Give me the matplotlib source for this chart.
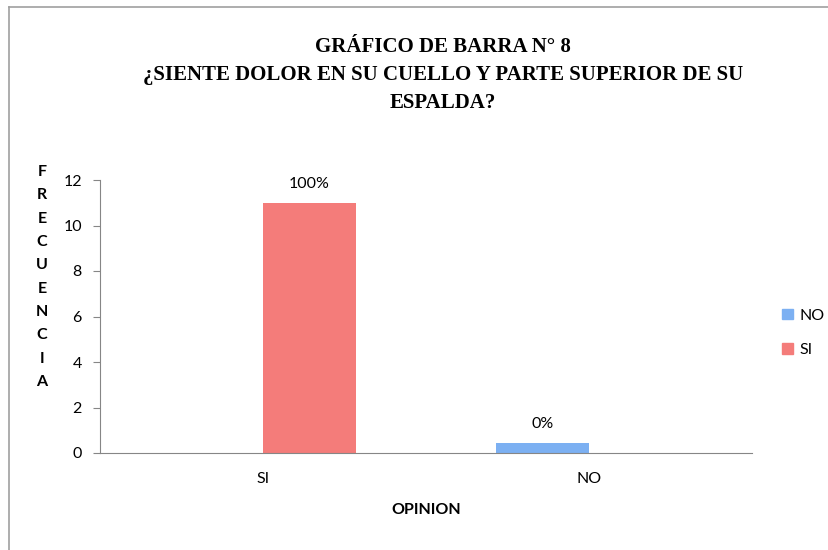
import numpy as np
import matplotlib.pyplot as plt
from matplotlib.lines import Line2D
from matplotlib.patches import Patch

categories = ["SI", "NO"]
series_names = ["NO", "SI"]
no_values = [0, 0.45]
si_values = [11, 0]
no_labels = ["", "0%"]
si_labels = ["100%", ""]
y_ticks = [0, 2, 4, 6, 8, 10, 12]

red = "#F47C7A"
blue = "#7CB0F2"
axis_grey = "#868686"
sans = ["Lato", "DejaVu Sans"]
fs = 11.5

fig = plt.figure(figsize=(8.29, 5.5), dpi=100)
ax = fig.add_axes([100 / 829, 1 - 453 / 550, 652 / 829, 273 / 550])

x = np.arange(len(categories))
width = 1 / 3.5
bars_no = ax.bar(x - width / 2, no_values, width, color=blue, label=series_names[0])
bars_si = ax.bar(x + width / 2, si_values, width, color=red, label=series_names[1])

for bars, labels in [(bars_no, no_labels), (bars_si, si_labels)]:
    for bar, text in zip(bars, labels):
        if text:
            ax.text(bar.get_x() + bar.get_width() / 2, bar.get_height() + 0.5, text,
                    ha="center", va="bottom", fontsize=fs, family=sans)

ax.set_xlim(-0.5, 1.5)
ax.set_ylim(0, 12)
ax.set_yticks(y_ticks)
ax.set_yticklabels([str(v) for v in y_ticks], family=sans, fontsize=fs)
ax.set_xticks(x)
ax.set_xticklabels(categories, family=sans, fontsize=fs)
ax.tick_params(axis="x", length=0, pad=14)
ax.tick_params(axis="y", length=5, color=axis_grey, pad=8)

for side in ["top", "right"]:
    ax.spines[side].set_visible(False)
for side in ["left", "bottom"]:
    ax.spines[side].set_color(axis_grey)

ax.set_xlabel("OPINION", family=sans, fontsize=fs, fontweight="bold", labelpad=12)

fig.text(42 / 829, 1 - 277 / 550, "\n".join("FRECUENCIA"), ha="center", va="center",
         family=sans, fontsize=fs, fontweight="bold", linespacing=1.85)

title = "GRÁFICO DE BARRA N° 8\n¿SIENTE DOLOR EN SU CUELLO Y PARTE SUPERIOR DE SU\nESPALDA?"
fig.text(443 / 829, 1 - 75 / 550, title, ha="center", va="center",
         family=["Liberation Serif", "DejaVu Serif"], fontsize=15, fontweight="bold",
         linespacing=1.5)

handles = [Patch(color=blue), Patch(color=red)]
fig.legend(handles, series_names, loc="center left", bbox_to_anchor=(768 / 829, 1 - 333 / 550),
           frameon=False, handlelength=0.65, handleheight=0.65, handletextpad=0.4,
           labelspacing=1.3, prop={"family": sans, "size": fs})

# outer chart border (top and left edges visible)
fig.add_artist(Line2D([9 / 829, 9 / 829], [0, 1 - 7 / 550], transform=fig.transFigure,
                      color="#A0A0A0", linewidth=1.2))
fig.add_artist(Line2D([9 / 829, 1], [1 - 7 / 550, 1 - 7 / 550], transform=fig.transFigure,
                      color="#A0A0A0", linewidth=1.2))

fig.savefig("out.png", dpi=100)
